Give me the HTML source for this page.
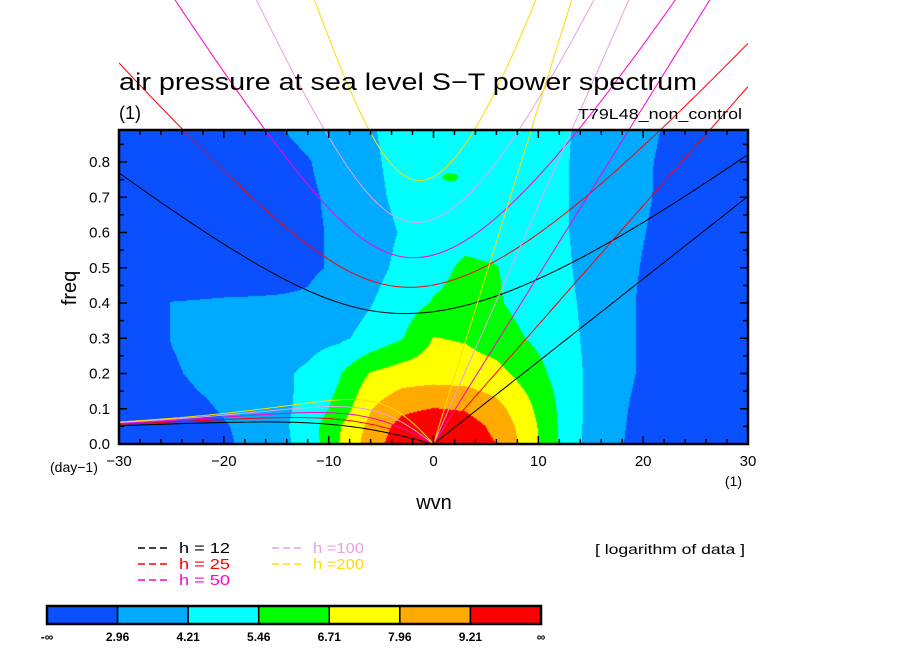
<!DOCTYPE html>
<html><head><meta charset="utf-8">
<style>
html,body{margin:0;padding:0;background:#fff;}
#wrap{position:relative;width:904px;height:654px;overflow:hidden;font-family:"Liberation Sans","DejaVu Sans",sans-serif;}
canvas,svg{position:absolute;left:0;top:0;}
</style></head>
<body>
<div id="wrap">
<canvas id="cv" width="904" height="654"></canvas>
<svg id="sv" width="904" height="654"></svg>
</div>
<script>
// ---- data ----
const kGrid = [-30,-25,-20,-15,-12,-9,-6,-3,0,3,6,9,12,15,20,25,30];
const fGrid = [0,0.05,0.1,0.15,0.2,0.3,0.4,0.5,0.6,0.7,0.8,0.9];
const vRow0  = [1.5,2.0,2.75,3.75,4.7,6.71,8.6,10.0,10.8,10.0,9.21,7.4,5.4,3.75,2.5,2.0,1.6];
const vRow05 = [1.6,2.1,2.85,3.8,4.8,6.6,8.3,9.7,10.3,9.8,8.9,7.3,5.35,3.8,2.55,2.0,1.6];
const vRow1  = [1.6,2.2,3.1,3.8,4.6,5.9,7.9,8.9,9.25,9.1,8.4,7.0,5.3,3.85,2.6,2.0,1.6];
const vRow15 = [1.7,2.6,3.3,3.85,4.5,5.6,7.4,8.1,8.3,8.2,7.7,6.6,5.2,3.9,2.7,2.0,1.6];
const vRow2  = [1.8,2.8,3.5,3.95,4.4,5.35,6.8,7.3,7.4,7.35,7.1,6.2,5.0,3.95,2.8,2.1,1.7];
const vRow3  = [1.9,3.0,3.6,3.85,3.8,4.0,4.6,5.4,6.75,6.6,6.1,5.4,4.8,3.9,2.8,2.1,1.7];
const vRow4  = [1.9,3.0,3.1,3.1,3.1,3.6,4.15,4.9,5.55,5.8,5.6,5.0,4.6,3.9,2.8,2.1,1.7];
const vRow5  = [1.8,2.0,2.2,2.5,2.8,3.1,3.8,4.5,5.1,5.65,5.5,5.0,4.5,3.8,2.9,2.2,1.8];
const vRow6  = [1.8,2.0,2.2,2.5,2.8,3.1,3.7,4.3,4.9,5.1,5.0,4.8,4.4,3.8,3.0,2.2,1.8];
const vRow7  = [1.8,2.0,2.2,2.5,2.8,3.2,3.9,4.5,5.2,5.1,5.0,4.8,4.4,3.8,3.1,2.3,1.8];
const vRow8  = [1.8,2.0,2.3,2.6,2.9,3.4,4.0,4.6,5.3,5.2,5.0,4.8,4.4,3.8,3.1,2.4,1.8];
const vRow9  = [1.8,2.0,2.4,2.9,3.25,3.6,4.1,4.7,5.2,5.1,5.0,4.8,4.45,3.85,3.2,2.5,1.9];
const levels = [2.96,4.21,5.46,6.71,7.96,9.21];
const levelLabels = ["-∞","2.96","4.21","5.46","6.71","7.96","9.21","∞"];
const colors = ["#0a50ff","#00aaff","#00ffff","#00ff00","#ffff00","#ffaa00","#ff0000"];
const depths = [12,25,50,100,200];
const depthColors = ["#000000","#ff0000","#ff00cc","#e6a0e6","#ffdd00"];
const xTicks = [-30,-20,-10,0,10,20,30];
const yTicks = [0,0.1,0.2,0.3,0.4,0.5,0.6,0.7,0.8];
const values = [vRow0,vRow05,vRow1,vRow15,vRow2,vRow3,vRow4,vRow5,vRow6,vRow7,vRow8,vRow9];

// ---- axes ----
const X0=119,X1=748,Y0=444,YT=130,PF=352.5;
const xs = k => X0 + (k+30)*(X1-X0)/60;
const ys = f => Y0 - f*PF;
const kinv = x => (x-X0)*60/(X1-X0)-30;
const finv = y => (Y0-y)/PF;

// ---- contour fill ----
function seg(arr,v){let i=0;while(i<arr.length-2&&v>arr[i+1])i++;let t=(v-arr[i])/(arr[i+1]-arr[i]);t=Math.max(0,Math.min(1,t));return [i,t];}
function val(k,f){const [i,t]=seg(kGrid,k);const [j,u]=seg(fGrid,f);
 const a=values[j][i],b=values[j][i+1],c=values[j+1][i],d=values[j+1][i+1];
 return (a*(1-t)+b*t)*(1-u)+(c*(1-t)+d*t)*u;}
const cv=document.getElementById('cv');const ctx=cv.getContext('2d');
const W=X1-X0,H=Y0-YT;
const img=ctx.createImageData(W,H);
const rgb=colors.map(c=>[parseInt(c.substr(1,2),16),parseInt(c.substr(3,2),16),parseInt(c.substr(5,2),16)]);
for(let y=0;y<H;y++){for(let x=0;x<W;x++){
 const v=val(kinv(X0+x+0.5),finv(YT+y+0.5));let l=0;while(l<levels.length&&v>levels[l])l++;
 const p=(y*W+x)*4;img.data[p]=rgb[l][0];img.data[p+1]=rgb[l][1];img.data[p+2]=rgb[l][2];img.data[p+3]=255;}}
ctx.putImageData(img,X0,YT);
// small green patch near (1.5, 0.76)
ctx.fillStyle=colors[3];ctx.beginPath();ctx.ellipse(xs(1.6),ys(0.757),8,4,0,0,Math.PI*2);ctx.fill();

// ---- svg overlay ----
const NS="http://www.w3.org/2000/svg";const sv=document.getElementById('sv');
function el(tag,attrs,parent){const e=document.createElementNS(NS,tag);for(const a in attrs)e.setAttribute(a,attrs[a]);(parent||sv).appendChild(e);return e;}
const defs=el('defs',{});const cp=el('clipPath',{id:'clp'},defs);el('rect',{x:X0,y:0,width:X1-X0,height:Y0},cp);
const curves=el('g',{'clip-path':'url(#clp)'});



const beta=2.29e-11,a=6.371e6,g=9.81,conv=86400/(2*Math.PI);
depths.forEach((h,di)=>{
 const c=Math.sqrt(g*h);const col=depthColors[di];
 let kel=[],ig=[],ros=[];
 for(let s=0;s<=30;s+=0.25){const k=s/a;kel.push([s,c*k*conv]);}
 for(let s=-30;s<=30;s+=0.25){const k=s/a;let w=Math.sqrt(c*c*k*k+3*beta*c);
  for(let it=0;it<50;it++){w=Math.sqrt(Math.max(1e-20,c*c*k*k+3*beta*c+c*c*beta*k/w));}
  ig.push([s,w*conv]);}
 for(let s=-30;s<=0;s+=0.25){const k=s/a;ros.push([s,-beta*k/(k*k+3*beta/c)*conv]);}
 [['kelvin',kel],['inertia-gravity',ig],['rossby',ros]].forEach(([nm,pts])=>{
  const p=el('path',{d:'M'+pts.map(q=>xs(q[0]).toFixed(1)+','+ys(q[1]).toFixed(1)).join('L'),fill:'none',stroke:col,'stroke-width':1},curves);
  
  
 });
});

// frame
const fr=el('rect',{x:X0,y:YT,width:X1-X0,height:Y0-YT,fill:'none',stroke:'#000','stroke-width':2.5});


// ticks
const tg=el('g',{stroke:'#000','stroke-width':1.5});


for(let k=-30;k<=30;k+=2){const L=(k%10===0)?8:5;const x=xs(k);el('line',{x1:x,y1:Y0,x2:x,y2:Y0-L},tg);el('line',{x1:x,y1:YT,x2:x,y2:YT+L},tg);}
for(let i=0;i<=17;i++){const f=i*0.05;const L=(i%2===0)?8:5;const y=ys(f);el('line',{x1:X0,y1:y,x2:X0+L,y2:y},tg);el('line',{x1:X1,y1:y,x2:X1-L,y2:y},tg);}
function txt(s,x,y,o,name){const t=el('text',Object.assign({x:x,y:y,'font-family':'"Liberation Sans",sans-serif','font-size':15,fill:'#000'},o||{}));t.textContent=s;return t;}
xTicks.forEach(k=>{txt(k===0?'0':(k<0?'−'+(-k):String(k)),xs(k),466,{'text-anchor':'middle'},'x-tick-label');});
yTicks.forEach(f=>{txt(f.toFixed(1),110,ys(f)+5,{'text-anchor':'end'},'y-tick-label');});
txt('air pressure at sea level S−T power spectrum',119,90,{'font-size':24,textLength:578,lengthAdjust:'spacingAndGlyphs'},'chart-title');
txt('(1)',119,119,{'font-size':18},'title-units');
txt('T79L48_non_control',578,119,{'font-size':15,textLength:164,lengthAdjust:'spacingAndGlyphs'},'experiment-label');
txt('freq',0,0,{'font-size':20,transform:'translate(76,288) rotate(-90)','text-anchor':'middle'},'y-axis-title');
txt('wvn',434,509,{'font-size':20,'text-anchor':'middle'},'x-axis-title');
txt('(day−1)',50,472,{'font-size':14},'y-axis-units');
txt('(1)',742,486,{'font-size':14,'text-anchor':'end'},'x-axis-units');
txt('[ logarithm of data ]',595,554,{'font-size':14,textLength:150,lengthAdjust:'spacingAndGlyphs'},'data-note');
// legend
const legPos=[[138,553],[138,569],[138,585],[272,553],[272,569]];
depths.forEach((h,i)=>{const [x,y]=legPos[i];const g2=el('g',{});
 
 
 el('line',{x1:x,y1:y-5,x2:x+31,y2:y-5,stroke:depthColors[i],'stroke-dasharray':'7,4','stroke-width':1.5},g2);
 const t=el('text',{x:x+41,y:y,'font-family':'"Liberation Sans",sans-serif','font-size':15,fill:depthColors[i],textLength:51,lengthAdjust:'spacingAndGlyphs'},g2);
 t.textContent=h>=100?'h ='+h:'h = '+h;});
// colorbar
const cb=el('g',{});


const cbX=47,cbW=(541-47)/7;
colors.forEach((c,i)=>{const r=el('rect',{x:cbX+i*cbW,y:606,width:cbW,height:18,fill:c,stroke:'#000','stroke-width':1.5},cb);
 
 });
el('rect',{x:cbX,y:606,width:cbW*7,height:18,fill:'none',stroke:'#000','stroke-width':2.5},cb);
levelLabels.forEach((s,i)=>{txt(s,cbX+i*cbW,641,{'text-anchor':'middle','font-size':12,'font-weight':'bold'},'colorbar-label');});
</script>
</body></html>
